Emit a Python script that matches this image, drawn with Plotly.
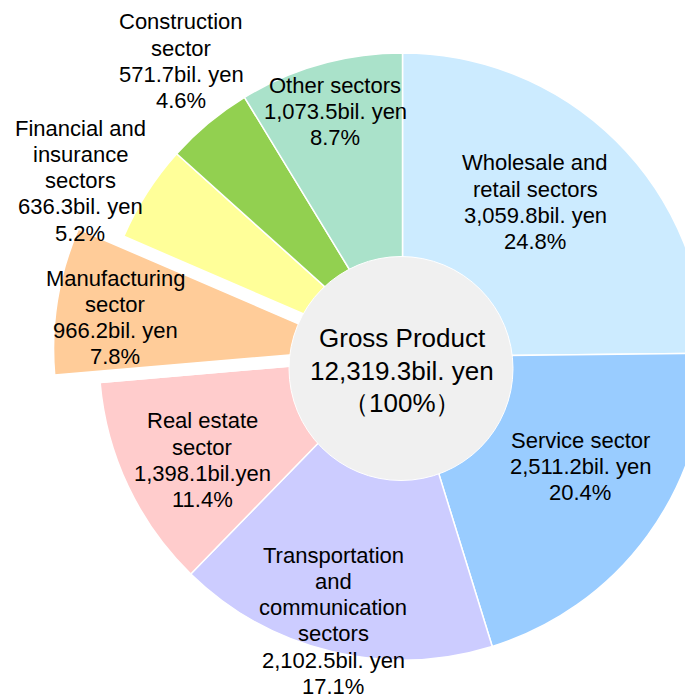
import math
import plotly.graph_objects as go

# ---- data ----
sector_lines = [["Wholesale and", "retail sectors"], ["Service sector"],
                ["Transportation", "and", "communication", "sectors"],
                ["Real estate", "sector"], ["Manufacturing", "sector"],
                ["Financial and", "insurance", "sectors"], ["Construction", "sector"], ["Other sectors"]]
values = [3059.8, 2511.2, 2102.5, 1398.1, 966.2, 636.3, 571.7, 1073.5]
percents = [24.8, 20.4, 17.1, 11.4, 7.8, 5.2, 4.6, 8.7]
unit_text = ["bil. yen", "bil. yen", "bil. yen", "bil.yen", "bil. yen", "bil. yen", "bil. yen", "bil. yen"]
colors = ["#CCEBFF", "#99CCFF", "#CCCCFF", "#FFCCCC", "#FFCC99", "#FFFF99", "#92D050", "#AAE2CA"]
pulled_index = 4
total_label = "Gross Product"
total_unit = "bil. yen"
total_pct = "（100%）"

sectors = [" ".join(l) for l in sector_lines]
total = sum(values)

OFF = 8          # page body margin
W, H = 700, 696


def px(x):
    return (x - OFF) / W


def py(y):
    return 1 - (y - OFF) / H


def dom(cx, cy, r):
    return dict(x=[px(cx - r), px(cx + r)], y=[py(cy + r), py(cy - r)])


R = 303.5
CX, CY = 402.5, 356.5
PULL = 46
cum = sum(values[:pulled_index]) + values[pulled_index] / 2
theta = 2 * math.pi * cum / total
dx, dy = PULL * math.sin(theta), -PULL * math.cos(theta)

col_main = [("rgba(0,0,0,0)" if i == pulled_index else c) for i, c in enumerate(colors)]
col_pull = [(c if i == pulled_index else "rgba(0,0,0,0)") for i, c in enumerate(colors)]
lw_pull = [(1.5 if i == pulled_index else 0) for i in range(len(colors))]

fig = go.Figure()
fig.add_trace(go.Pie(labels=sectors, values=values, sort=False, direction="clockwise", rotation=0,
                     marker=dict(colors=col_main, line=dict(color="white", width=1.5)),
                     textinfo="none", hoverinfo="label+value", showlegend=False,
                     domain=dom(CX, CY, R)))
fig.add_trace(go.Pie(labels=sectors, values=values, sort=False, direction="clockwise", rotation=0,
                     marker=dict(colors=col_pull, line=dict(color="white", width=lw_pull)),
                     textinfo="none", hoverinfo="skip", showlegend=False,
                     domain=dom(CX + dx, CY + dy, R)))

# centre circle
GX, GY, GR = 401, 368.5, 112
fig.add_shape(type="circle", xref="paper", yref="paper", layer="above",
              x0=px(GX - GR), x1=px(GX + GR), y0=py(GY + GR), y1=py(GY - GR),
              fillcolor="#F0F0F0", line=dict(color="white", width=1))

FONT = "Liberation Sans, Arial, sans-serif"


def add_lines(lines, x, y0, step, size):
    for k, t in enumerate(lines):
        fig.add_annotation(text=t, x=px(x), y=py(y0 + k * step), xref="paper", yref="paper",
                           showarrow=False, xanchor="center", yanchor="middle",
                           font=dict(family=FONT, size=size, color="#000000"))


# labels: (centre x, first line centre y) in page pixels
label_pos = [(535, 163), (580, 440), (333, 555), (202, 421), (115, 278), (80, 128), (181, 22), (335, 85)]
for lines, v, u, p, (lx, ly) in zip(sector_lines, values, unit_text, percents, label_pos):
    add_lines(lines + [f"{v:,.1f}{u}", f"{p:.1f}%"], lx, ly, 26.3, 22)

add_lines([total_label, f"{total:,.1f}{total_unit}", total_pct], 402, 338, 32.5, 26)

fig.update_layout(width=W, height=H, margin=dict(l=0, r=0, t=0, b=0),
                  paper_bgcolor="white", plot_bgcolor="white")
fig.write_html("out.html")
